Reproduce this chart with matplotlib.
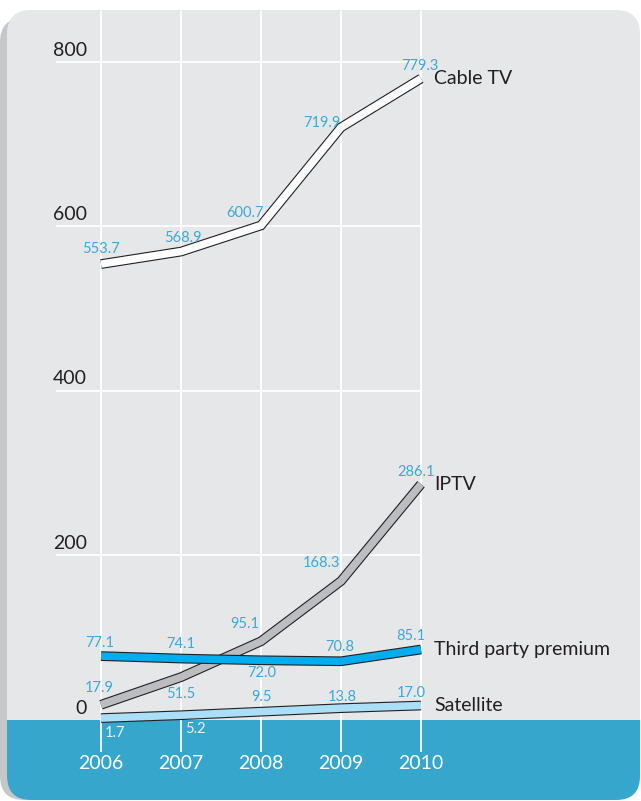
import matplotlib
matplotlib.use("Agg")
import matplotlib.pyplot as plt
import matplotlib.patheffects as pe
from matplotlib.patches import FancyBboxPatch, Rectangle

plt.rcParams['font.family'] = ['Lato', 'DejaVu Sans']

# data
years = [2006, 2007, 2008, 2009, 2010]
cable = [553.7, 568.9, 600.7, 719.9, 779.3]
iptv = [17.9, 51.5, 95.1, 168.3, 286.1]
third = [77.1, 74.1, 72.0, 70.8, 85.1]
sat = [1.7, 5.2, 9.5, 13.8, 17.0]
yticks = [0, 200, 400, 600, 800]
names = ['Cable TV', 'IPTV', 'Third party premium', 'Satellite']

# value label offsets (pixels)
offs = {
    'Cable TV': [(0, 15), (2, 14), (-16, 12), (-19, 4), (-1, 13)],
    'IPTV': [(-2, 17), (0, -17), (-16, 17), (-19, 18), (-5, 12)],
    'Third party premium': [(-1, 13), (0, 15), (1, -13), (-1, 14), (-10, 14)],
    'Satellite': [(14, -15), (14, -14), (1, 15), (1, 11), (-10, 13)],
}

W, H = 641, 801
fig = plt.figure(figsize=(W / 100, H / 100), dpi=100)
fig.patch.set_facecolor('white')
ax = fig.add_axes([0, 0, 1, 1])
ax.axis('off')

def px_box(x0, y0, x1, y1, **kw):
    # box in pixels from top-left, drawn in inches
    return FancyBboxPatch((x0 / 100, (H - y1) / 100), (x1 - x0) / 100, (y1 - y0) / 100,
                          transform=fig.dpi_scale_trans, **kw)

shadow = px_box(0, 18, 630, 800, boxstyle='round,pad=0,rounding_size=0.24',
                fc='#c6c7c9', ec='none', zorder=-5)
panel = px_box(7, 10, 640, 800, boxstyle='round,pad=0,rounding_size=0.24',
               fc='#e6e7e9', ec='none', zorder=-4)
ax.add_patch(shadow)
ax.add_patch(panel)
band = Rectangle((0, 0), W / 100, (H - 720) / 100, transform=fig.dpi_scale_trans,
                 fc='#36a6cd', ec='none', zorder=-3)
ax.add_patch(band)
band.set_clip_path(panel)

ax.set_xlim(2006 - 101 / 80, 2006 + 540 / 80)
ax.set_ylim((719.5 - 801) / 0.8225, 719.5 / 0.8225)

# grid
ax.vlines(years, -39.5, 862, color='white', lw=1.3, zorder=-2)
ax.hlines(yticks[1:], 2006 - 45 / 80, 2010, color='white', lw=1.3, zorder=-2)

for v in yticks:
    ax.annotate(str(v), (2006, v), xytext=(-14, 3), textcoords='offset pixels',
                ha='right', va='bottom', fontsize=14, color='#231f20')
for yr in years:
    ax.text(yr, -54, str(yr), ha='center', va='center', fontsize=14, color='white')

series = [
    ('IPTV', iptv, '#bcbdc0'),
    ('Third party premium', third, '#00aeef'),
    ('Satellite', sat, '#aadff7'),
    ('Cable TV', cable, 'white'),
]
for name, vals, col in series:
    ax.plot(years, vals, color=col, lw=5.4, solid_capstyle='butt', solid_joinstyle='miter',
            path_effects=[pe.Stroke(linewidth=7.0, foreground='#231f20'), pe.Normal()])
    ax.annotate(name, (years[-1], vals[-1]), xytext=(13, 0), textcoords='offset pixels',
                ha='left', va='center', fontsize=14, color='#231f20')
    for yr, v, (dx, dy) in zip(years, vals, offs[name]):
        c = '#e6f4fb' if (name == 'Satellite' and dy < 0) else '#3ca9d6'
        ax.annotate(f'{v:.1f}', (yr, v), xytext=(dx, dy), textcoords='offset pixels',
                    ha='center', va='center', fontsize=10.5, color=c)

fig.savefig('out.png', dpi=100)
